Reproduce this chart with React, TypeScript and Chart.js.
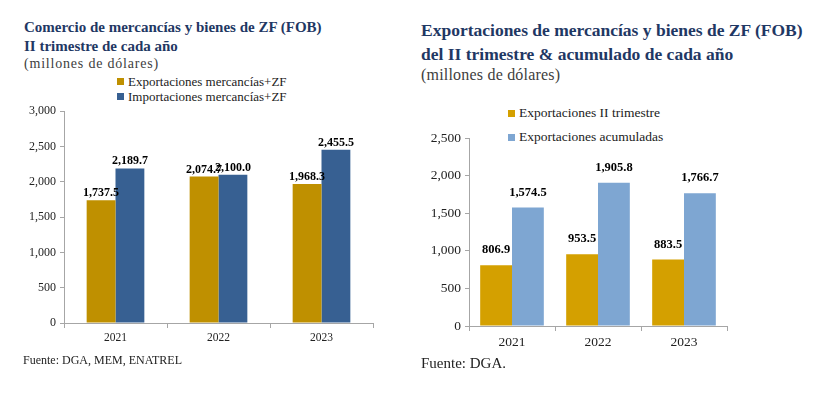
import React, { useEffect, useRef } from "react";
import { Chart, registerables } from "chart.js";

Chart.register(...registerables);

const years = ["2021", "2022", "2023"];

const leftSeriesNames = ["Exportaciones mercancías+ZF", "Importaciones mercancías+ZF"];
const leftExports = [1737.5, 2074.7, 1968.3];
const leftImports = [2189.7, 2100.0, 2455.5];
const leftTicks = [0, 500, 1000, 1500, 2000, 2500, 3000];

const rightSeriesNames = ["Exportaciones II trimestre", "Exportaciones acumuladas"];
const rightQuarter = [806.9, 953.5, 883.5];
const rightCumulative = [1574.5, 1905.8, 1766.7];
const rightTicks = [0, 500, 1000, 1500, 2000, 2500];

const leftColors = ["#BF9000", "#376092"];
const rightColors = ["#D4A000", "#7EA6D2"];

const SERIF = "'Liberation Serif', 'DejaVu Serif', serif";
const fmt = (v: number) =>
  v.toLocaleString("en-US", { minimumFractionDigits: 1, maximumFractionDigits: 1 });
const fmtTick = (v: number) => v.toLocaleString("en-US");

function makeLabelPlugin(fontSize: number, gap: number) {
  return {
    id: "valueLabels",
    afterDatasetsDraw(chart: any) {
      const ctx = chart.ctx;
      ctx.save();
      ctx.font = `bold ${fontSize}px ${SERIF}`;
      ctx.fillStyle = "#000";
      ctx.textAlign = "center";
      ctx.textBaseline = "alphabetic";
      chart.data.datasets.forEach((ds: any, di: number) => {
        const meta = chart.getDatasetMeta(di);
        meta.data.forEach((bar: any, i: number) => {
          ctx.fillText(fmt(ds.data[i]), bar.x, bar.y - gap);
        });
      });
      ctx.restore();
    },
  };
}

interface BarChartProps {
  left: number;
  top: number;
  width: number;
  height: number;
  names: string[];
  series: number[][];
  colors: string[];
  ticks: number[];
  yWidth: number;
  xHeight: number;
  padTop: number;
  padRight: number;
  catPct: number;
  tickFont: number;
  xFont: number;
  labelFont: number;
  labelGap: number;
}

function BarChart(p: BarChartProps) {
  const ref = useRef<HTMLCanvasElement | null>(null);
  useEffect(() => {
    if (!ref.current) return;
    const chart = new Chart(ref.current, {
      type: "bar",
      data: {
        labels: years,
        datasets: p.series.map((d, i) => ({
          label: p.names[i],
          data: d,
          backgroundColor: p.colors[i],
          borderWidth: 0,
          barPercentage: 1,
          categoryPercentage: p.catPct,
        })),
      },
      options: {
        animation: false,
        responsive: false,
        maintainAspectRatio: false,
        layout: { padding: { top: p.padTop, right: p.padRight, left: 0, bottom: 0 } },
        plugins: {
          legend: { display: false },
          tooltip: { enabled: false },
          title: { display: false },
        },
        scales: {
          x: {
            grid: {
              display: true,
              drawOnChartArea: false,
              drawTicks: true,
              tickLength: 5,
              color: "#A6A6A6",
              offset: true,
            },
            border: { display: true, color: "#A6A6A6", width: 1 },
            ticks: {
              color: "#222",
              font: { family: SERIF, size: p.xFont },
              padding: 3,
            },
            afterFit: (axis: any) => {
              axis.height = p.xHeight;
            },
          },
          y: {
            min: p.ticks[0],
            max: p.ticks[p.ticks.length - 1],
            afterBuildTicks: (axis: any) => {
              axis.ticks = p.ticks.map((v) => ({ value: v }));
            },
            grid: {
              display: true,
              drawOnChartArea: false,
              drawTicks: true,
              tickLength: 4,
              color: "#A6A6A6",
            },
            border: { display: true, color: "#A6A6A6", width: 1 },
            ticks: {
              color: "#222",
              font: { family: SERIF, size: p.tickFont },
              padding: 4,
              callback: (v: any) => fmtTick(Number(v)),
            },
            afterFit: (axis: any) => {
              axis.width = p.yWidth;
            },
          },
        },
      },
      plugins: [makeLabelPlugin(p.labelFont, p.labelGap)],
    });
    return () => chart.destroy();
  }, []);
  return (
    <canvas
      ref={ref}
      width={p.width}
      height={p.height}
      style={{ position: "absolute", left: p.left, top: p.top, width: p.width, height: p.height }}
    />
  );
}

function Legend(props: { left: number; top: number; names: string[]; colors: string[]; rowGap: number; fontSize: number; box: number }) {
  return (
    <div style={{ position: "absolute", left: props.left, top: props.top, fontFamily: SERIF, fontSize: props.fontSize, color: "#222" }}>
      {props.names.map((n, i) => (
        <div key={n} style={{ display: "flex", alignItems: "center", height: props.rowGap, whiteSpace: "nowrap" }}>
          <span style={{ display: "inline-block", width: props.box, height: props.box, background: props.colors[i], marginRight: 4 }} />
          <span>{n}</span>
        </div>
      ))}
    </div>
  );
}

export default function App() {
  const titleColor = "#1F3864";
  return (
    <div style={{ position: "absolute", left: 0, top: 0, width: 833, height: 393, background: "#fff", overflow: "hidden" }}>
      {/* Left chart */}
      <div style={{ position: "absolute", left: 24, top: 18, fontFamily: SERIF, color: titleColor, fontWeight: "bold", fontSize: 15, lineHeight: "19px", whiteSpace: "nowrap" }}>
        <div>Comercio de mercancías y bienes de ZF (FOB)</div>
        <div>II trimestre de cada año</div>
      </div>
      <div style={{ position: "absolute", left: 24, top: 56, fontFamily: SERIF, color: "#404040", fontSize: 14, letterSpacing: 0.8, whiteSpace: "nowrap" }}>
        (millones de dólares)
      </div>
      <Legend left={117} top={74} names={leftSeriesNames} colors={leftColors} rowGap={15} fontSize={13} box={7} />
      <BarChart
        left={0}
        top={100}
        width={400}
        height={260}
        names={leftSeriesNames}
        series={[leftExports, leftImports]}
        colors={leftColors}
        ticks={leftTicks}
        yWidth={64}
        xHeight={37}
        padTop={11}
        padRight={27}
        catPct={0.56}
        tickFont={12}
        xFont={11.5}
        labelFont={12}
        labelGap={4}
      />
      <div style={{ position: "absolute", left: 23, top: 353, fontFamily: SERIF, color: "#222", fontSize: 12, whiteSpace: "nowrap" }}>
        Fuente: DGA, MEM, ENATREL
      </div>

      {/* Right chart */}
      <div style={{ position: "absolute", left: 421, top: 18, fontFamily: SERIF, color: titleColor, fontWeight: "bold", fontSize: 17.5, lineHeight: "24px", whiteSpace: "nowrap" }}>
        <div>Exportaciones de mercancías y bienes de ZF (FOB)</div>
        <div>del II trimestre &amp; acumulado de cada año</div>
      </div>
      <div style={{ position: "absolute", left: 421, top: 66, fontFamily: SERIF, color: "#404040", fontSize: 16, letterSpacing: 0.2, whiteSpace: "nowrap" }}>
        (millones de dólares)
      </div>
      <Legend left={508} top={101} names={rightSeriesNames} colors={rightColors} rowGap={24} fontSize={13.5} box={7} />
      <BarChart
        left={420}
        top={120}
        width={413}
        height={250}
        names={rightSeriesNames}
        series={[rightQuarter, rightCumulative]}
        colors={rightColors}
        ticks={rightTicks}
        yWidth={49}
        xHeight={44}
        padTop={18}
        padRight={106}
        catPct={0.74}
        tickFont={13.5}
        xFont={13.5}
        labelFont={12.5}
        labelGap={12}
      />
      <div style={{ position: "absolute", left: 421, top: 355, fontFamily: SERIF, color: "#222", fontSize: 15, whiteSpace: "nowrap" }}>
        Fuente: DGA.
      </div>
    </div>
  );
}
